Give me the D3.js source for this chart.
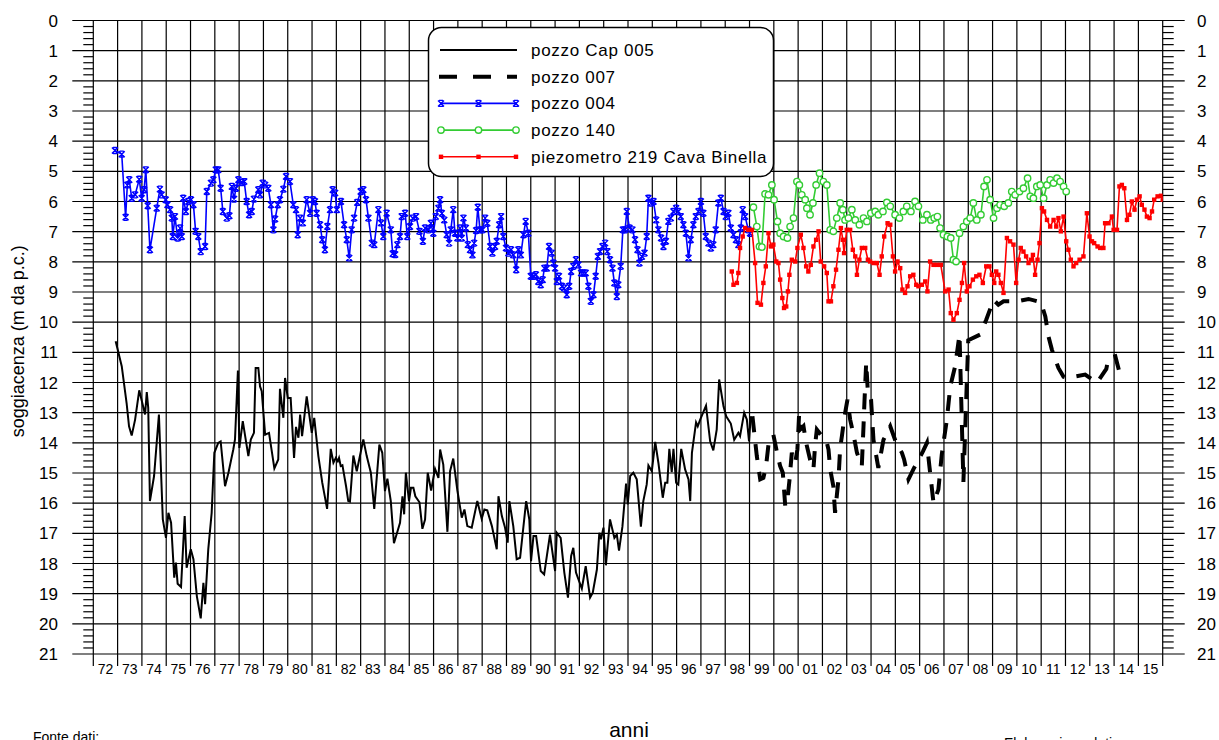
<!DOCTYPE html>
<html>
<head>
<meta charset="utf-8">
<script src="https://cdn.jsdelivr.net/npm/d3@7"></script>
<style>
  body { margin: 0; background: #fff; }
  svg { display: block; font-family: "Liberation Sans", Arial, sans-serif; }
</style>
</head>
<body>
<svg id="chart" width="1219" height="740"></svg>
<script>
// anno (decimal), soggiacenza (m da p.c.)
const cap005 = [
  [1972.92,10.63],[1973.17,11.46],[1973.37,12.68],[1973.47,13.45],[1973.58,13.76],[1973.72,13.23],[1973.89,12.26],
  [1974.13,13.06],[1974.20,12.32],[1974.26,12.84],[1974.33,15.93],[1974.50,15.1],[1974.70,13.06],[1974.86,16.54],
  [1974.99,17.15],[1975.09,16.32],[1975.20,16.65],[1975.33,18.47],[1975.40,17.97],[1975.47,18.67],[1975.61,18.78],
  [1975.76,16.43],[1975.84,18.14],[1976.01,17.53],[1976.12,17.86],[1976.26,19.08],[1976.42,19.82],[1976.53,18.64],
  [1976.60,19.35],[1976.73,17.53],[1976.87,16.32],[1976.98,14.33],[1977.14,14.0],[1977.24,13.95],[1977.42,15.44],
  [1977.56,14.99],[1977.76,14.22],[1977.83,13.89],[1977.95,11.6],[1978.01,14.17],[1978.15,13.28],[1978.38,14.44],
  [1978.48,13.89],[1978.61,13.67],[1978.68,11.52],[1978.79,11.52],[1978.86,12.13],[1978.93,12.29],[1979.07,13.73],
  [1979.23,13.67],[1979.45,14.85],[1979.61,14.55],[1979.68,12.21],[1979.82,13.17],[1979.89,11.85],[1980.00,12.51],
  [1980.12,12.51],[1980.26,14.5],[1980.34,13.47],[1980.44,13.83],[1980.51,13.06],[1980.59,13.78],[1980.78,12.46],
  [1980.99,13.67],[1981.09,13.17],[1981.26,14.44],[1981.42,15.32],[1981.62,16.19],[1981.77,14.2],[1981.88,14.66],
  [1981.98,14.5],[1982.06,14.61],[1982.11,14.5],[1982.18,14.77],[1982.25,14.74],[1982.40,15.44],[1982.49,15.93],
  [1982.56,15.95],[1982.70,14.42],[1982.84,14.94],[1983.11,13.89],[1983.25,14.44],[1983.42,14.99],[1983.56,16.19],
  [1983.77,14.06],[1983.89,14.33],[1984.00,15.6],[1984.10,15.19],[1984.24,15.93],[1984.37,17.33],[1984.62,16.65],
  [1984.72,15.77],[1984.79,16.37],[1984.86,14.99],[1984.99,15.93],[1985.07,15.49],[1985.17,15.49],[1985.25,15.77],
  [1985.42,15.97],[1985.54,16.85],[1985.65,16.54],[1985.76,14.99],[1985.90,15.58],[1986.06,14.86],[1986.20,15.16],
  [1986.27,14.22],[1986.40,14.72],[1986.57,16.95],[1986.68,14.94],[1986.81,14.52],[1986.98,15.58],[1987.16,16.48],
  [1987.27,16.21],[1987.39,16.76],[1987.57,16.81],[1987.80,15.93],[1987.98,16.52],[1988.09,16.21],[1988.21,16.24],
  [1988.40,16.76],[1988.60,17.53],[1988.67,15.77],[1988.81,16.43],[1988.94,16.81],[1989.05,17.31],[1989.12,15.93],
  [1989.28,16.76],[1989.42,17.86],[1989.56,17.81],[1989.81,15.93],[1989.94,16.54],[1990.01,17.92],[1990.11,17.09],
  [1990.22,17.09],[1990.41,18.25],[1990.55,18.36],[1990.79,17.04],[1991.00,18.25],[1991.07,16.98],[1991.23,17.15],
  [1991.38,18.3],[1991.53,19.13],[1991.66,17.75],[1991.75,17.48],[1991.86,18.3],[1992.10,18.83],[1992.26,18.09],
  [1992.44,19.13],[1992.55,18.97],[1992.72,18.2],[1992.82,16.98],[1992.89,17.2],[1992.99,16.81],[1993.09,18.06],
  [1993.26,16.54],[1993.44,17.15],[1993.54,17.04],[1993.63,17.57],[1993.77,16.78],[1993.92,15.35],[1993.99,16.04],
  [1994.09,15.1],[1994.22,14.99],[1994.36,15.21],[1994.53,16.78],[1994.63,15.93],[1994.77,15.38],[1994.84,14.75],
  [1994.98,14.94],[1995.12,13.97],[1995.25,14.66],[1995.43,15.82],[1995.53,15.32],[1995.62,15.32],[1995.70,14.2],
  [1995.80,14.97],[1995.87,14.2],[1995.98,15.32],[1996.07,15.38],[1996.19,14.2],[1996.35,14.88],[1996.49,15.21],
  [1996.56,15.93],[1996.63,14.33],[1996.80,13.32],[1996.87,13.45],[1996.97,13.23],[1997.21,12.77],[1997.38,13.95],
  [1997.51,14.25],[1997.65,13.56],[1997.75,11.9],[1997.93,12.79],[1998.04,13.12],[1998.23,13.36],[1998.37,13.9],
  [1998.54,13.67],[1998.61,13.78],[1998.78,13.0],[1998.89,13.23],[1998.98,13.95],[1999.05,13.12]
];

const pozzo007 = [
  [1999.12,13.12],[1999.30,14.44],[1999.44,15.21],[1999.57,15.16],[1999.68,14.77],[1999.78,14.06],[1999.98,13.73],
  [2000.16,14.44],[2000.26,14.77],[2000.37,14.99],[2000.47,16.1],[2000.56,15.88],[2000.64,15.27],[2000.74,14.33],
  [2000.88,14.66],[2000.97,14.22],[2001.04,13.06],[2001.08,13.56],[2001.22,13.45],[2001.33,14.0],[2001.49,14.55],
  [2001.63,14.88],[2001.70,14.06],[2001.77,13.56],[2001.98,13.78],[2002.15,13.9],[2002.25,14.22],[2002.32,14.88],
  [2002.45,15.44],[2002.52,16.32],[2002.66,15.21],[2002.73,14.16],[2002.80,13.78],[2002.91,13.12],[2003.03,12.57],
  [2003.14,13.23],[2003.28,13.73],[2003.42,14.33],[2003.62,14.77],[2003.69,13.45],[2003.73,12.62],[2003.80,11.34],
  [2003.86,12.18],[2004.00,12.57],[2004.10,13.9],[2004.30,14.83],[2004.51,13.9],[2004.79,13.45],[2005.06,14.06],
  [2005.27,14.33],[2005.36,14.55],[2005.54,15.21],[2005.74,14.88],[2006.13,14.29],[2006.30,14.0],[2006.40,14.77],
  [2006.47,15.27],[2006.57,15.99],[2006.77,15.55],[2006.91,14.39],[2007.12,13.23],[2007.26,12.13],[2007.46,11.46],
  [2007.64,10.41],[2007.80,15.3],[2008.00,10.6],[2008.49,10.41],[2008.74,9.92],[2009.04,9.26],[2009.24,9.42],
  [2009.45,9.31],[2010.00,9.31],[2010.48,9.23],[2010.99,9.34],[2011.17,9.81],[2011.30,10.47],[2011.44,10.91],
  [2011.71,11.52],[2011.92,11.81],[2012.06,11.85],[2012.81,11.74],[2013.29,12.01],[2013.68,11.55],[2013.77,11.19],
  [2014.05,11.13],[2014.25,11.75]
];

const pozzo004 = [
  [1972.89,4.31],[1973.17,4.43],[1973.33,6.52],[1973.40,5.45],[1973.48,5.28],[1973.58,5.89],[1973.72,5.78],
  [1973.89,5.26],[1973.99,5.89],[1974.09,5.61],[1974.16,4.95],[1974.24,6.14],[1974.33,7.6],[1974.61,6.22],
  [1974.74,5.59],[1974.81,5.78],[1974.98,5.94],[1975.05,6.11],[1975.16,6.27],[1975.23,6.55],[1975.27,7.16],
  [1975.36,6.5],[1975.47,7.21],[1975.57,6.88],[1975.64,7.16],[1975.70,5.89],[1975.81,6.33],[1975.91,6.0],
  [1976.02,5.94],[1976.12,6.11],[1976.21,6.99],[1976.32,7.16],[1976.42,7.66],[1976.60,7.49],[1976.67,5.67],
  [1976.84,5.39],[1976.94,5.28],[1977.04,4.95],[1977.14,4.95],[1977.24,5.56],[1977.33,6.33],[1977.49,6.55],
  [1977.60,6.47],[1977.70,5.5],[1977.79,5.92],[1977.87,5.56],[1977.97,5.28],[1978.11,5.37],[1978.21,5.34],
  [1978.31,6.0],[1978.41,6.44],[1978.52,6.33],[1978.61,5.92],[1978.79,5.61],[1978.86,5.78],[1978.97,5.39],
  [1979.07,5.45],[1979.20,5.56],[1979.31,6.11],[1979.41,6.94],[1979.48,6.58],[1979.59,6.11],[1979.68,5.94],
  [1979.82,5.59],[1979.93,5.17],[1980.09,5.34],[1980.23,6.11],[1980.34,6.27],[1980.41,7.1],[1980.51,6.55],
  [1980.62,6.71],[1980.78,5.94],[1980.92,6.39],[1981.03,5.94],[1981.12,6.0],[1981.19,6.39],[1981.33,6.77],
  [1981.42,7.27],[1981.53,7.6],[1981.63,6.83],[1981.74,6.27],[1981.85,5.61],[1981.95,5.72],[1982.02,6.27],
  [1982.19,6.0],[1982.32,6.77],[1982.43,7.27],[1982.53,7.87],[1982.63,6.94],[1982.73,6.55],[1982.86,6.03],
  [1983.00,5.67],[1983.11,5.61],[1983.22,5.94],[1983.32,6.55],[1983.46,7.38],[1983.56,7.43],[1983.73,6.27],
  [1983.84,6.71],[1983.93,7.16],[1984.07,6.39],[1984.24,6.94],[1984.32,7.73],[1984.42,7.76],[1984.51,7.43],
  [1984.62,7.16],[1984.69,6.5],[1984.83,6.39],[1984.92,7.16],[1985.03,6.83],[1985.14,6.55],[1985.28,6.5],
  [1985.42,6.99],[1985.56,7.32],[1985.65,6.88],[1985.79,6.94],[1985.89,6.72],[1985.99,7.05],[1986.09,6.5],
  [1986.20,6.22],[1986.27,5.94],[1986.34,6.39],[1986.44,6.61],[1986.54,7.1],[1986.64,7.38],[1986.71,6.94],
  [1986.81,6.27],[1986.88,7.05],[1986.98,7.21],[1987.09,6.88],[1987.16,7.21],[1987.23,6.55],[1987.33,6.88],
  [1987.41,7.43],[1987.50,7.6],[1987.60,7.77],[1987.67,7.38],[1987.75,6.96],[1987.82,6.19],[1987.91,6.94],
  [1988.01,6.94],[1988.12,6.55],[1988.21,6.72],[1988.33,7.49],[1988.42,7.71],[1988.53,7.49],[1988.60,7.32],
  [1988.70,6.77],[1988.78,6.5],[1988.87,7.16],[1988.98,7.54],[1989.08,7.71],[1989.19,7.6],[1989.28,7.77],
  [1989.40,8.26],[1989.49,7.6],[1989.59,7.77],[1989.70,7.1],[1989.79,6.66],[1989.90,7.05],[1990.00,8.48],
  [1990.11,8.48],[1990.21,8.43],[1990.31,8.65],[1990.41,8.76],[1990.49,8.59],[1990.56,8.21],[1990.66,8.21],
  [1990.75,7.49],[1990.86,7.71],[1990.93,8.04],[1991.00,8.21],[1991.07,8.65],[1991.16,8.48],[1991.28,8.81],
  [1991.37,8.87],[1991.48,9.09],[1991.58,8.81],[1991.66,8.32],[1991.75,8.15],[1991.86,7.93],[1991.96,8.1],
  [1992.07,8.37],[1992.16,8.37],[1992.26,8.37],[1992.37,8.81],[1992.47,9.31],[1992.58,9.09],[1992.67,8.48],
  [1992.76,7.82],[1992.85,7.66],[1992.95,7.49],[1993.06,7.38],[1993.15,7.66],[1993.26,7.93],[1993.36,8.21],
  [1993.44,8.7],[1993.54,9.15],[1993.60,8.76],[1993.70,8.15],[1993.79,6.94],[1993.88,6.94],[1993.95,6.33],
  [1994.06,6.88],[1994.18,6.94],[1994.29,7.27],[1994.39,7.6],[1994.47,8.04],[1994.57,7.82],[1994.68,7.71],
  [1994.77,7.16],[1994.84,5.89],[1994.94,6.05],[1995.05,6.0],[1995.16,6.61],[1995.25,6.94],[1995.36,7.21],
  [1995.46,7.49],[1995.56,7.32],[1995.66,6.66],[1995.76,6.55],[1995.87,6.33],[1995.98,6.22],[1996.07,6.33],
  [1996.17,6.5],[1996.28,6.77],[1996.38,7.05],[1996.49,7.87],[1996.58,7.27],[1996.69,6.77],[1996.79,6.5],
  [1996.90,6.33],[1997.00,6.0],[1997.10,6.39],[1997.20,7.16],[1997.31,7.38],[1997.41,7.54],[1997.51,7.43],
  [1997.61,6.94],[1997.72,6.05],[1997.82,5.89],[1997.93,6.33],[1998.02,6.5],[1998.13,6.39],[1998.23,6.88],
  [1998.34,7.1],[1998.44,7.27],[1998.54,7.43],[1998.64,6.88],[1998.72,6.27],[1998.82,6.5],[1998.95,6.94],
  [1999.02,7.05]
];

const pozzo140 = [
  [1999.16,6.19],[1999.30,6.83],[1999.41,7.49],[1999.51,7.51],[1999.64,5.75],[1999.78,5.78],[1999.92,5.45],
  [2000.01,5.94],[2000.15,6.66],[2000.26,7.05],[2000.40,7.16],[2000.56,7.21],[2000.67,6.83],[2000.81,6.55],
  [2000.95,5.34],[2001.05,5.45],[2001.15,5.78],[2001.29,5.94],[2001.36,6.22],[2001.49,6.44],[2001.61,6.05],
  [2001.74,5.45],[2001.88,5.06],[2002.04,5.34],[2002.18,5.45],[2002.32,6.94],[2002.45,6.99],[2002.59,6.55],
  [2002.73,6.05],[2002.84,6.27],[2002.93,6.61],[2003.07,6.55],[2003.21,6.27],[2003.35,6.61],[2003.52,6.77],
  [2003.69,6.55],[2003.83,6.66],[2003.99,6.39],[2004.17,6.33],[2004.30,6.44],[2004.49,6.33],[2004.65,6.03],
  [2004.79,6.16],[2004.99,6.44],[2005.17,6.55],[2005.33,6.33],[2005.47,6.16],[2005.64,6.33],[2005.81,6.0],
  [2005.95,6.16],[2006.13,6.61],[2006.30,6.44],[2006.46,6.61],[2006.60,6.55],[2006.73,6.5],[2006.84,6.88],
  [2006.98,7.1],[2007.14,7.16],[2007.28,7.21],[2007.39,7.93],[2007.50,7.99],[2007.64,7.05],[2007.80,6.83],
  [2007.94,6.66],[2008.08,6.55],[2008.21,6.05],[2008.35,6.61],[2008.52,6.44],[2008.65,5.5],[2008.77,5.28],
  [2008.90,5.94],[2009.04,6.55],[2009.18,6.22],[2009.31,6.11],[2009.48,6.16],[2009.65,6.05],[2009.79,5.67],
  [2009.93,5.78],[2010.11,5.67],[2010.27,5.56],[2010.44,5.23],[2010.55,5.83],[2010.68,5.89],[2010.82,5.5],
  [2010.96,5.45],[2011.10,5.89],[2011.24,5.45],[2011.37,5.28],[2011.51,5.39],[2011.65,5.23],[2011.78,5.34],
  [2011.92,5.5],[2012.03,5.67]
];

const piez219 = [
  [1998.27,8.32],[1998.34,8.76],[1998.48,8.7],[1998.54,8.37],[1998.61,7.54],[1998.72,7.16],[1998.82,6.88],
  [1998.95,6.94],[1999.10,6.94],[1999.23,8.04],[1999.33,9.36],[1999.47,9.42],[1999.57,8.7],[1999.67,8.15],
  [1999.78,7.05],[1999.88,7.49],[1999.98,7.43],[2000.10,7.99],[2000.19,8.04],[2000.26,8.59],[2000.35,9.2],
  [2000.42,9.53],[2000.51,9.48],[2000.58,8.98],[2000.64,8.43],[2000.74,7.93],[2000.88,7.99],[2000.97,7.54],
  [2001.11,7.1],[2001.22,7.54],[2001.33,8.15],[2001.42,8.32],[2001.52,8.1],[2001.63,7.49],[2001.74,7.27],
  [2001.84,6.99],[2001.93,7.99],[2002.07,8.15],[2002.18,8.37],[2002.25,9.31],[2002.35,9.31],[2002.45,8.81],
  [2002.56,8.26],[2002.66,7.6],[2002.76,6.88],[2002.84,7.27],[2002.89,7.71],[2003.00,6.94],[2003.14,6.94],
  [2003.25,7.6],[2003.35,7.82],[2003.42,8.43],[2003.52,7.93],[2003.62,7.54],[2003.76,7.54],[2003.87,7.93],
  [2003.96,7.99],[2004.10,8.04],[2004.24,8.04],[2004.35,8.43],[2004.44,7.82],[2004.54,7.16],[2004.68,6.72],
  [2004.79,6.77],[2004.90,7.82],[2004.99,8.32],[2005.09,7.99],[2005.20,8.21],[2005.29,8.92],[2005.40,9.03],
  [2005.50,8.81],[2005.61,8.48],[2005.74,8.43],[2005.86,8.76],[2005.95,8.81],[2006.09,8.76],[2006.23,8.65],
  [2006.32,8.98],[2006.43,7.99],[2006.57,8.1],[2006.71,8.1],[2006.87,8.1],[2007.05,8.98],[2007.19,8.92],
  [2007.28,9.7],[2007.39,9.92],[2007.53,9.7],[2007.64,9.26],[2007.74,8.7],[2007.83,8.04],[2007.94,8.98],
  [2008.05,8.81],[2008.19,8.59],[2008.33,8.48],[2008.46,8.43],[2008.60,8.7],[2008.74,8.15],[2008.87,8.15],
  [2008.97,8.43],[2009.07,8.7],[2009.15,8.32],[2009.24,8.43],[2009.34,8.7],[2009.45,9.03],[2009.59,7.21],
  [2009.72,7.32],[2009.86,7.43],[2009.97,8.7],[2010.07,7.93],[2010.16,7.54],[2010.27,7.66],[2010.38,7.82],
  [2010.48,8.04],[2010.58,7.93],[2010.66,7.77],[2010.75,8.43],[2010.85,7.93],[2010.93,7.38],[2011.03,6.22],
  [2011.12,6.33],[2011.24,6.61],[2011.37,6.83],[2011.51,6.61],[2011.62,6.83],[2011.71,6.55],[2011.81,6.99],
  [2011.92,6.5],[2012.03,7.32],[2012.12,7.6],[2012.22,7.93],[2012.33,8.15],[2012.44,8.04],[2012.58,7.93],
  [2012.74,7.82],[2012.88,6.39],[2012.99,7.16],[2013.09,7.32],[2013.18,7.38],[2013.32,7.49],[2013.43,7.54],
  [2013.56,7.54],[2013.63,6.72],[2013.77,6.72],[2013.91,6.5],[2013.98,6.94],[2014.12,6.94],[2014.22,5.5],
  [2014.32,5.45],[2014.42,5.56],[2014.53,6.61],[2014.63,6.44],[2014.73,6.0],[2014.84,6.27],[2014.94,5.94],
  [2015.05,5.83],[2015.14,6.11],[2015.25,6.27],[2015.35,6.5],[2015.46,6.55],[2015.56,6.33],[2015.65,5.94],
  [2015.79,5.83],[2015.93,5.81],[2016.0,5.94]
];

const yearTicks = d3.range(1972, 2017);
const yearLabels = ['72','73','74','75','76','77','78','79','80','81','82','83','84','85','86','87','88','89','90','91','92','93',
  '94','95','96','97','98','99','00','01','02','03','04','05','06','07','08','09','10','11','12','13','14','15'];
const depthTicks = d3.range(0, 22);
const depthMinor = d3.range(0, 21 * 5).filter(i => i % 5 !== 0).map(i => i / 5);

const legendItems = [
  {label: 'pozzo Cap 005', key: 'cap'},
  {label: 'pozzo 007', key: 'dash'},
  {label: 'pozzo 004', key: 'blue'},
  {label: 'pozzo 140', key: 'green'},
  {label: 'piezometro 219 Cava Binella', key: 'red'}
];

// region size
const plotLeft = 93.3, plotRight = 1162.7, plotTop = 20.5, plotBottom = 654;
const blue = '#0000ff', green = '#33cc33', red = '#ff0000';
// endregion

const svg = d3.select('#chart');

const x = d3.scaleLinear().domain([1972, 2016]).range([plotLeft, plotRight]);
const y = d3.scaleLinear().domain([0, 21]).range([plotTop, plotBottom]);

// grid
const grid = svg.append('g').attr('stroke', '#000').attr('stroke-width', 1.2);

grid.selectAll('.vgrid').data(yearTicks).enter().append('line')
  .attr('x1', d => x(d)).attr('x2', d => x(d))
  .attr('y1', plotTop).attr('y2', plotBottom + 12);

grid.selectAll('.hgrid').data(depthTicks).enter().append('line')
  .attr('x1', plotLeft - 21).attr('x2', plotRight + 22)
  .attr('y1', d => y(d)).attr('y2', d => y(d));

grid.selectAll('.minorL').data(depthMinor).enter().append('line')
  .attr('x1', plotLeft - 10).attr('x2', plotLeft)
  .attr('y1', d => y(d)).attr('y2', d => y(d));

grid.selectAll('.minorR').data(depthMinor).enter().append('line')
  .attr('x1', plotRight).attr('x2', plotRight + 11)
  .attr('y1', d => y(d)).attr('y2', d => y(d));

// tick labels
svg.append('g').selectAll('text').data(depthTicks).enter().append('text')
  .attr('x', 58).attr('y', d => y(d) + 6)
  .attr('text-anchor', 'end').attr('font-size', 17).text(d => d);

svg.append('g').selectAll('text').data(depthTicks).enter().append('text')
  .attr('x', 1197).attr('y', d => y(d) + 6)
  .attr('font-size', 17).text(d => d);

svg.append('g').selectAll('text').data(yearLabels).enter().append('text')
  .attr('x', (d, i) => x(1972 + i + 0.5)).attr('y', 674)
  .attr('text-anchor', 'middle').attr('font-size', 14).text(d => d);

svg.append('text')
  .attr('transform', 'translate(24,' + ((plotTop + plotBottom) / 2 + 4) + ') rotate(-90)')
  .attr('text-anchor', 'middle').attr('font-size', 18)
  .text('soggiacenza (m da p.c.)');

svg.append('text').attr('x', 629).attr('y', 737).attr('text-anchor', 'middle')
  .attr('font-size', 21).text('anni');
svg.append('text').attr('x', 33).attr('y', 742).attr('font-size', 14).text('Fonte dati:');
svg.append('text').attr('x', 1004).attr('y', 748).attr('font-size', 14).text('Elaborazione dati');

// series
const line = d3.line().x(d => x(d[0])).y(d => y(d[1]));

const clip = svg.append('clipPath').attr('id', 'plot-clip').append('rect')
  .attr('x', plotLeft).attr('y', plotTop)
  .attr('width', plotRight - plotLeft).attr('height', plotBottom - plotTop);

const series = svg.append('g').attr('clip-path', 'url(#plot-clip)');

function crossPath(s) {
  return 'M' + (-s) + ',' + (-s) + 'L' + s + ',' + s + 'M' + s + ',' + (-s) + 'L' + (-s) + ',' + s
    + 'M' + (-s + 1) + ',' + (-s) + 'H' + (s - 1) + 'M' + (-s + 1) + ',' + s + 'H' + (s - 1);
}

series.append('path').datum(cap005)
  .attr('d', line).attr('fill', 'none').attr('stroke', '#000').attr('stroke-width', 2);

series.append('path').datum(pozzo007)
  .attr('d', line).attr('fill', 'none').attr('stroke', '#000').attr('stroke-width', 4)
  .attr('stroke-dasharray', '16,12');

series.append('path').datum(pozzo004)
  .attr('d', line).attr('fill', 'none').attr('stroke', blue).attr('stroke-width', 1.6);
series.append('g').selectAll('path').data(pozzo004).enter().append('path')
  .attr('transform', d => 'translate(' + x(d[0]) + ',' + y(d[1]) + ')')
  .attr('d', crossPath(3)).attr('fill', 'none').attr('stroke', blue).attr('stroke-width', 1.4);

series.append('path').datum(pozzo140)
  .attr('d', line).attr('fill', 'none').attr('stroke', green).attr('stroke-width', 1.6);
series.append('g').selectAll('circle').data(pozzo140).enter().append('circle')
  .attr('cx', d => x(d[0])).attr('cy', d => y(d[1])).attr('r', 3.2)
  .attr('fill', '#fff').attr('stroke', green).attr('stroke-width', 1.4);

series.append('path').datum(piez219)
  .attr('d', line).attr('fill', 'none').attr('stroke', red).attr('stroke-width', 1.6);
series.append('g').selectAll('rect').data(piez219).enter().append('rect')
  .attr('x', d => x(d[0]) - 2.2).attr('y', d => y(d[1]) - 2.2)
  .attr('width', 4.4).attr('height', 4.4).attr('fill', red);

// legend
const legend = svg.append('g');
legend.append('rect')
  .attr('x', 428.5).attr('y', 27.5).attr('width', 345).attr('height', 149)
  .attr('rx', 13).attr('fill', '#fff').attr('stroke', '#000').attr('stroke-width', 1.5);

const rowY = i => 50 + i * 26.7;
const sampleX = [440, 517];

legendItems.forEach((item, i) => {
  const g = legend.append('g').attr('transform', 'translate(0,' + rowY(i) + ')');
  const l = g.append('line').attr('x1', sampleX[0]).attr('x2', sampleX[1]).attr('y1', 0).attr('y2', 0);
  if (item.key === 'cap') {
    l.attr('stroke', '#000').attr('stroke-width', 2);
  } else if (item.key === 'dash') {
    l.attr('x1', 439).attr('stroke', '#000').attr('stroke-width', 4).attr('stroke-dasharray', '18,16');
  } else {
    const c = item.key === 'blue' ? blue : item.key === 'green' ? green : red;
    l.attr('stroke', c).attr('stroke-width', 1.6);
    [441, 478.5, 516].forEach(mx => {
      if (item.key === 'blue') {
        g.append('path').attr('transform', 'translate(' + mx + ',0)').attr('d', crossPath(3))
          .attr('fill', 'none').attr('stroke', c).attr('stroke-width', 1.4);
      } else if (item.key === 'green') {
        g.append('circle').attr('cx', mx).attr('cy', 0).attr('r', 3.2)
          .attr('fill', '#fff').attr('stroke', c).attr('stroke-width', 1.4);
      } else {
        g.append('rect').attr('x', mx - 2.2).attr('y', -2.2).attr('width', 4.4).attr('height', 4.4).attr('fill', c);
      }
    });
  }
  g.append('text').attr('x', 531).attr('y', 6).attr('font-size', 17)
    .attr('letter-spacing', 0.7).text(item.label);
});
</script>
</body>
</html>
